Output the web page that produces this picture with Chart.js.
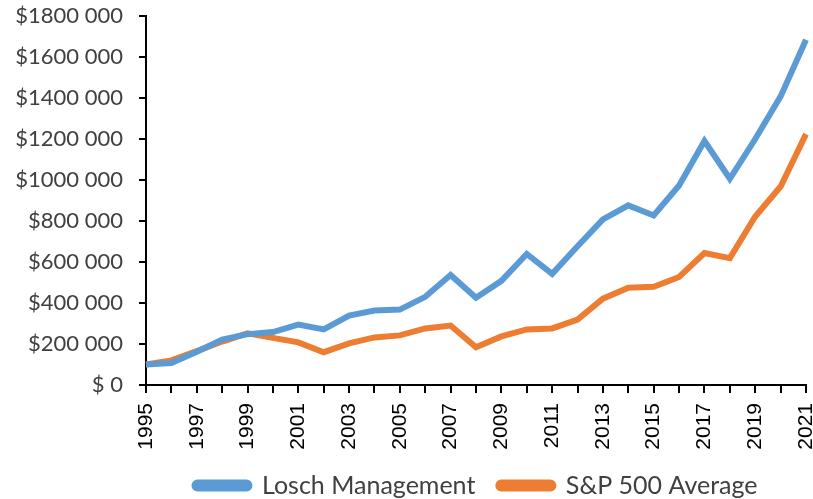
<!DOCTYPE html>
<html>
<head>
<meta charset="utf-8">
<script src="https://cdn.jsdelivr.net/npm/chart.js@4"></script>
<style>
  html, body { margin: 0; padding: 0; background: #fff; }
  #wrap { width: 813px; height: 499px; }
</style>
</head>
<body>
<div id="wrap"><canvas id="myChart" width="813" height="499"></canvas></div>
<script>
var years = ['1995','1996','1997','1998','1999','2000','2001','2002','2003','2004','2005','2006','2007',
  '2008','2009','2010','2011','2012','2013','2014','2015','2016','2017','2018','2019','2020','2021'];
var losch = [100000, 107000, 162000, 222000, 248000, 258000, 295000, 271000, 339000, 363000, 368000, 430000, 537000,
  426000, 508000, 639000, 542000, 677000, 808000, 876000, 827000, 973000, 1190000, 1006000, 1200000, 1408000, 1684000];
var sp500 = [100000, 120000, 165000, 212000, 252000, 230000, 208000, 160000, 203000, 232000, 242000, 276000, 290000,
  184000, 237000, 271000, 276000, 319000, 421000, 474000, 479000, 527000, 644000, 619000, 822000, 968000, 1224000];

document.addEventListener('DOMContentLoaded', function () {
  var ctx = document.getElementById('myChart').getContext('2d');
  new Chart(ctx, {
    type: 'line',
    data: {
      labels: years,
      datasets: [{
        label: 'Losch Management',
        data: losch,
        borderColor: '#5B9BD5',
        backgroundColor: '#5B9BD5',
        borderWidth: 6,
        pointRadius: 0,
        tension: 0
      }, {
        label: 'S&P 500 Average',
        data: sp500,
        borderColor: '#ED7D31',
        backgroundColor: '#ED7D31',
        borderWidth: 6,
        pointRadius: 0,
        tension: 0
      }]
    },
    options: {
      responsive: false,
      animation: false,
      layout: { padding: { top: 16, right: 7, left: 0, bottom: -9 } },
      plugins: {
        tooltip: { enabled: false },
        legend: {
          position: 'bottom',
          fullSize: false,
          labels: {
            color: '#404040',
            font: { family: 'Lato', size: 25 },
            boxWidth: 55,
            boxHeight: 6,
            useBorderRadius: true,
            borderRadius: 3,
            padding: 23
          }
        }
      },
      scales: {
        x: {
          offset: false,
          border: { color: '#000', width: 2 },
          grid: { display: true, drawOnChartArea: false, color: '#000', tickLength: 8, lineWidth: 2 },
          ticks: {
            autoSkip: false,
            maxRotation: 90,
            minRotation: 90,
            padding: 10,
            color: '#000',
            font: { family: 'Liberation Sans', size: 21 },
            callback: function (v, i) { return i % 2 === 0 ? years[i] : ''; }
          },
          afterFit: function (s) { s.height = 65; s.paddingLeft = 0; s.paddingRight = 0; }
        },
        y: {
          min: 0,
          max: 1800000,
          border: { color: '#000', width: 2 },
          grid: { display: true, drawOnChartArea: false, color: '#000', tickLength: 7, lineWidth: 2 },
          ticks: {
            stepSize: 200000,
            padding: 16,
            color: '#404040',
            font: { family: 'Lato', size: 22 },
            callback: function (v) { return v === 0 ? '$ 0' : '$' + Math.round(v / 1000) + ' 000'; }
          },
          afterFit: function (s) { s.width = 146; s.paddingTop = 0; s.paddingBottom = 0; }
        }
      }
    }
  });
});
</script>
</body>
</html>
